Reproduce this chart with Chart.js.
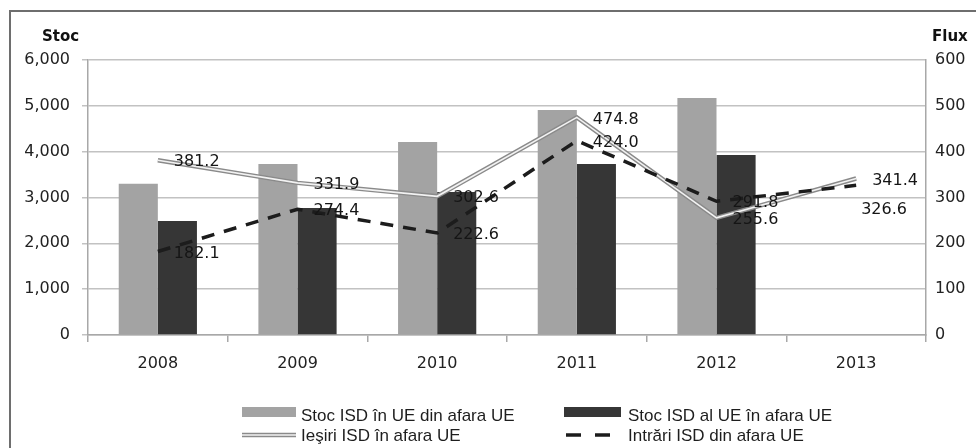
<!DOCTYPE html>
<html>
<head>
<meta charset="utf-8">
<script src="https://cdn.jsdelivr.net/npm/chart.js@4.4.1/dist/chart.umd.min.js"></script>
<style>
  html, body { margin: 0; padding: 0; background: #fff; }
  #wrap { width: 976px; height: 448px; position: relative; }
</style>
</head>
<body>
<div id="wrap"><canvas id="isd-chart"></canvas></div>
<script>
/*
    Data
*/
const years = ['2008', '2009', '2010', '2011', '2012', '2013'];
const stocInUE = [3300, 3730, 4210, 4910, 5170, null];   // Stoc ISD în UE din afara UE
const stocAlUE = [2490, 2770, 3120, 3730, 3930, null];   // Stoc ISD al UE în afara UE
const iesiri = [381.2, 331.9, 302.6, 474.8, 255.6, 341.4];  // Ieşiri ISD în afara UE
const intrari = [182.1, 274.4, 222.6, 424.0, 291.8, 326.6]; // Intrări ISD din afara UE
const seriesNames = [
    'Stoc ISD în UE din afara UE',
    'Stoc ISD al UE în afara UE',
    'Ieşiri ISD în afara UE',
    'Intrări ISD din afara UE'
];
const axisTitles = ['Stoc', 'Flux'];

const LIGHT = '#a3a3a3';
const DARK = '#363636';
const DOUBLE_OUT = '#8a8a8a';
const DOUBLE_IN = '#f2f2f2';
const DASH = '#1c1c1c';
const TICK_FONT = { family: 'DejaVu Sans', size: 16 };

// frame, axis titles, data labels and the two-column legend
const extras = {
    id: 'extras',
    beforeDraw(chart) {
        const c = chart.ctx;
        c.save();
        c.fillStyle = '#fff';
        c.fillRect(0, 0, chart.width, chart.height);
        c.strokeStyle = '#6e6e6e';
        c.lineWidth = 2;
        c.beginPath();
        c.moveTo(10, chart.height);
        c.lineTo(10, 11);
        c.lineTo(chart.width, 11);
        c.stroke();
        c.restore();
    },
    afterDatasetsDraw(chart) {
        const c = chart.ctx;
        c.save();
        c.font = '16px "DejaVu Sans"';
        c.fillStyle = '#151515';
        c.textBaseline = 'middle';
        c.textAlign = 'left';
        [2, 4].forEach(di => {
            const meta = chart.getDatasetMeta(di);
            const vals = chart.data.datasets[di].data;
            meta.data.forEach((pt, i) => {
                let dx = 16, dy = 2;
                if (di === 4 && i === vals.length - 1) { dx = 5; dy = 25; }
                c.fillText(vals[i].toFixed(1), pt.x + dx, pt.y + dy);
            });
        });
        c.restore();
    },
    afterDraw(chart) {
        const c = chart.ctx;
        c.save();
        // axis titles
        c.font = 'bold 15px "DejaVu Sans"';
        c.fillStyle = '#111';
        c.textBaseline = 'middle';
        c.fillText(axisTitles[0], 42, 37);
        c.fillText(axisTitles[1], 932, 37);

        // legend
        c.font = '17px "Liberation Sans"';
        c.fillStyle = '#1e1e1e';
        const col1 = 242, col2 = 564, row1 = 412, row2 = 435;
        c.fillStyle = LIGHT;
        c.fillRect(col1, row1 - 5, 54, 10);
        c.fillStyle = DARK;
        c.fillRect(col2, row1 - 5, 57, 10);

        c.lineCap = 'butt';
        c.strokeStyle = DOUBLE_OUT;
        c.lineWidth = 4.5;
        c.beginPath(); c.moveTo(col1, row2); c.lineTo(col1 + 54, row2); c.stroke();
        c.strokeStyle = DOUBLE_IN;
        c.lineWidth = 1.6;
        c.beginPath(); c.moveTo(col1, row2); c.lineTo(col1 + 54, row2); c.stroke();

        c.strokeStyle = DASH;
        c.lineWidth = 3.5;
        c.setLineDash([15, 14]);
        c.beginPath(); c.moveTo(col2 + 2, row2); c.lineTo(col2 + 48, row2); c.stroke();
        c.setLineDash([]);

        c.fillStyle = '#1e1e1e';
        c.fillText(seriesNames[0], 301, row1 + 4);
        c.fillText(seriesNames[1], 628, row1 + 4);
        c.fillText(seriesNames[2], 301, row2 + 1);
        c.fillText(seriesNames[3], 628, row2 + 1);
        c.restore();
    }
};

const ctx = document.getElementById('isd-chart').getContext('2d');
const isdChart = new Chart(ctx, {
    type: 'bar',
    data: {
        labels: years,
        datasets: [{
            label: seriesNames[0],
            data: stocInUE,
            backgroundColor: LIGHT,
            yAxisID: 'y',
            order: 3
        }, {
            label: seriesNames[1],
            data: stocAlUE,
            backgroundColor: DARK,
            yAxisID: 'y',
            order: 3
        }, {
            type: 'line',
            label: seriesNames[2],
            data: iesiri,
            borderColor: DOUBLE_OUT,
            borderWidth: 4.5,
            pointRadius: 0,
            yAxisID: 'y1',
            order: 2
        }, {
            // inner light stroke that gives the double line look
            type: 'line',
            label: '',
            data: iesiri,
            borderColor: DOUBLE_IN,
            borderWidth: 1.6,
            pointRadius: 0,
            yAxisID: 'y1',
            order: 1
        }, {
            type: 'line',
            label: seriesNames[3],
            data: intrari,
            borderColor: DASH,
            borderWidth: 3.5,
            borderDash: [13, 10],
            pointRadius: 0,
            yAxisID: 'y1',
            order: 0
        }]
    },
    options: {
        animation: false,
        responsive: true,
        maintainAspectRatio: false,
        layout: { padding: { left: 0, right: 0, top: 60, bottom: 0 } },
        datasets: {
            bar: { categoryPercentage: 0.56, barPercentage: 1.0 }
        },
        plugins: {
            legend: { display: false },
            tooltip: { enabled: false }
        },
        scales: {
            x: {
                offset: true,
                grid: {
                    offset: true,
                    drawOnChartArea: false,
                    tickLength: 7,
                    color: '#a8a8a8',
                    lineWidth: 1.5
                },
                border: { display: true, color: '#a8a8a8', width: 1.5 },
                ticks: { font: TICK_FONT, color: '#222', padding: 12, maxRotation: 0 },
                afterFit: (s) => { s.height = 113; }
            },
            y: {
                position: 'left',
                min: 0,
                max: 6000,
                ticks: {
                    stepSize: 1000,
                    font: TICK_FONT,
                    color: '#222',
                    padding: 12,
                    callback: (v) => v.toLocaleString('en-US')
                },
                grid: { color: '#c2c2c2', lineWidth: 1.5, tickLength: 6 },
                border: { display: true, color: '#a8a8a8', width: 1.5 },
                afterFit: (s) => { s.width = 88; }
            },
            y1: {
                position: 'right',
                min: 0,
                max: 600,
                ticks: { stepSize: 100, font: TICK_FONT, color: '#222', padding: 9 },
                grid: { drawOnChartArea: false, drawTicks: false },
                border: { display: true, color: '#a8a8a8', width: 1.5 },
                afterFit: (s) => { s.width = 50; }
            }
        }
    },
    plugins: [extras]
});
</script>
</body>
</html>
